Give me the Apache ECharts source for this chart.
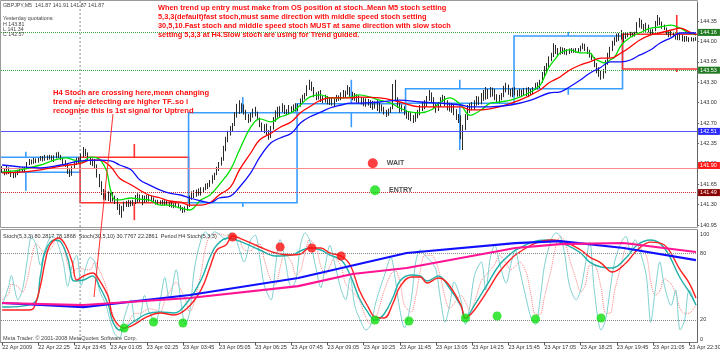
<!DOCTYPE html>
<html><head><meta charset="utf-8">
<script src="https://cdn.jsdelivr.net/npm/echarts@6/dist/echarts.min.js"></script>
<style>html,body{margin:0;padding:0;background:#fff;overflow:hidden}#c{width:720px;height:353px}</style>
</head><body><div id="c"></div>
<script>
// ---------------- DATA ----------------
const timeLabels = ['22 Apr 2009','22 Apr 22:25','22 Apr 23:45','23 Apr 01:05','23 Apr 02:25','23 Apr 03:45','23 Apr 05:05','23 Apr 06:25','23 Apr 07:45','23 Apr 09:05','23 Apr 10:25','23 Apr 11:45','23 Apr 13:05','23 Apr 14:25','23 Apr 15:45','23 Apr 17:05','23 Apr 18:25','23 Apr 19:45','23 Apr 21:05','23 Apr 22:30'];
const priceTicks = ['140.95','141.30','141.65','142.00','142.35','142.70','143.00','143.30','143.65','144.00','144.35'];
const stochTicks = [0,20,80,100];
const stochLevels = [20,80];
const daySeparator = 34.5;

// M5 candles: [open, close, low, high]
const m5Bars = [
[141.90,141.86,141.82,141.93],[141.86,141.80,141.78,141.89],[141.80,141.88,141.79,141.95],[141.88,141.83,141.80,141.91],
[141.83,141.78,141.75,141.86],[141.78,141.75,141.73,141.82],[141.75,141.81,141.74,141.84],[141.81,141.84,141.78,141.87],
[141.84,141.88,141.82,141.91],[141.88,141.85,141.83,141.92],[141.85,141.90,141.83,141.92],
[141.90,141.97,141.88,142.00],[141.97,142.02,141.95,142.05],[142.02,141.99,141.96,142.04],[141.99,142.04,141.97,142.07],[142.04,142.01,141.98,142.06],[142.01,142.05,141.99,142.07],
[142.05,142.08,142.02,142.10],[142.08,142.04,142.01,142.10],[142.04,142.09,142.02,142.12],[142.09,142.06,142.03,142.11],[142.06,142.10,142.04,142.12],[142.10,142.05,142.02,142.11],[142.05,142.09,142.00,142.11],
[142.09,142.13,142.06,142.16],[142.13,142.10,142.07,142.17],[142.10,142.06,142.03,142.12],
[142.06,142.00,141.96,142.07],[142.00,141.96,141.92,142.03],
[141.96,141.85,141.80,141.98],[141.85,141.79,141.75,141.88],[141.79,141.90,141.77,141.93],
[141.90,141.98,141.88,142.01],[141.98,142.04,141.95,142.07],[142.04,142.01,141.97,142.08],
[142.01,142.10,142.00,142.14],[142.10,142.20,142.08,142.25],[142.20,142.14,142.10,142.22],[142.14,142.06,142.03,142.16],
[142.06,141.99,141.95,142.08],[141.99,142.03,141.93,142.06],[142.03,141.94,141.90,142.05],
[141.94,141.78,141.74,141.96],[141.78,141.64,141.58,141.80],
[141.64,141.50,141.45,141.68],[141.50,141.42,141.37,141.55],
[141.42,141.48,141.36,141.53],[141.48,141.40,141.35,141.51],[141.40,141.45,141.33,141.49],[141.45,141.38,141.34,141.50],[141.38,141.35,141.30,141.44],
[141.35,141.26,141.20,141.40],[141.26,141.18,141.12,141.30],[141.18,141.22,141.07,141.27],[141.22,141.30,141.18,141.34],
[141.30,141.27,141.25,141.35],[141.27,141.33,141.25,141.37],[141.33,141.29,141.26,141.36],[141.29,141.34,141.27,141.37],
[141.34,141.41,141.30,141.45],[141.41,141.37,141.32,141.48],[141.37,141.43,141.33,141.46],[141.43,141.36,141.28,141.45],
[141.36,141.40,141.32,141.44],[141.40,141.37,141.33,141.45],[141.37,141.42,141.34,141.45],[141.42,141.38,141.34,141.44],[141.38,141.34,141.32,141.41],
[141.34,141.32,141.29,141.37],[141.32,141.35,141.28,141.37],[141.35,141.31,141.29,141.36],[141.31,141.34,141.28,141.37],[141.34,141.30,141.28,141.36],[141.30,141.32,141.28,141.35],
[141.32,141.28,141.25,141.33],[141.28,141.30,141.24,141.33],[141.30,141.26,141.23,141.31],[141.26,141.29,141.24,141.32],[141.29,141.25,141.23,141.31],
[141.25,141.22,141.19,141.28],[141.22,141.18,141.15,141.25],[141.18,141.23,141.16,141.26],[141.23,141.27,141.19,141.29],
[141.27,141.40,141.25,141.44],[141.40,141.47,141.37,141.51],[141.47,141.43,141.40,141.53],
[141.43,141.50,141.42,141.54],[141.50,141.47,141.44,141.56],[141.47,141.53,141.44,141.58],[141.53,141.56,141.49,141.58],
[141.56,141.61,141.53,141.64],[141.61,141.58,141.55,141.65],
[141.58,141.67,141.58,141.70],[141.67,141.74,141.64,141.78],[141.74,141.79,141.70,141.82],
[141.79,141.88,141.78,141.92],[141.88,141.97,141.85,142.00],[141.97,142.04,141.94,142.08],
[142.04,142.22,142.02,142.27],[142.22,142.35,142.18,142.42],
[142.35,142.48,142.33,142.52],[142.48,142.56,142.44,142.60],[142.56,142.62,142.50,142.65],
[142.62,142.78,142.60,142.83],[142.78,142.92,142.74,142.97],[142.92,142.85,142.80,143.03],[142.85,142.93,142.82,142.98],[142.93,142.84,142.79,142.96],
[142.84,142.76,142.70,142.87],[142.76,142.70,142.65,142.80],[142.70,142.78,142.67,142.82],
[142.78,142.85,142.74,142.89],[142.85,142.80,142.76,142.92],[142.80,142.72,142.70,142.84],
[142.72,142.62,142.58,142.74],[142.62,142.55,142.50,142.66],[142.55,142.60,142.48,142.63],
[142.60,142.50,142.45,142.64],[142.50,142.42,142.37,142.53],[142.42,142.55,142.40,142.60],
[142.55,142.70,142.54,142.75],[142.70,142.82,142.67,142.86],[142.82,142.78,142.74,142.92],
[142.78,142.88,142.75,142.93],[142.88,142.92,142.83,142.98],[142.92,142.85,142.80,142.95],
[142.85,142.82,142.78,142.88],[142.82,142.90,142.80,142.95],[142.90,142.86,142.82,142.93],
[142.86,142.92,142.83,142.96],[142.92,142.88,142.84,142.98],[142.88,142.94,142.85,142.97],
[142.94,143.02,142.92,143.06],[143.02,143.08,142.98,143.12],[143.08,143.12,143.04,143.15],
[143.12,143.24,143.10,143.28],[143.24,143.31,143.20,143.37],[143.31,143.22,143.18,143.34],
[143.22,143.12,143.08,143.25],[143.12,143.08,143.03,143.16],
[143.08,143.14,143.04,143.18],[143.14,143.06,143.00,143.20],[143.06,143.03,142.98,143.10],
[143.03,143.08,142.99,143.12],[143.08,143.01,142.96,143.10],[143.01,143.05,142.95,143.08],
[143.05,142.98,142.94,143.08],[142.98,143.04,142.92,143.07],[143.04,143.09,143.00,143.12],[143.09,143.06,143.02,143.11],
[143.06,143.13,143.03,143.16],[143.13,143.10,143.06,143.20],[143.10,143.16,143.07,143.19],
[143.16,143.22,143.12,143.28],[143.22,143.14,143.09,143.25],[143.14,143.07,143.03,143.17],
[143.07,143.11,143.02,143.15],[143.11,143.04,142.99,143.13],[143.04,143.08,142.98,143.11],
[143.08,143.01,142.96,143.08],[143.01,143.04,142.93,143.07],[143.04,142.98,142.92,143.06],[142.98,143.02,142.94,143.05],
[143.02,142.95,142.90,143.03],[142.95,142.99,142.87,143.02],[142.99,142.93,142.89,143.01],
[142.93,142.97,142.85,143.03],[142.97,142.88,142.82,142.99],[142.88,142.92,142.84,142.96],
[142.92,142.84,142.79,142.92],[142.84,142.80,142.75,142.87],[142.80,142.86,142.77,142.89],[142.86,142.90,142.82,142.92],
[142.90,143.18,142.88,143.30],[143.18,143.06,143.02,143.37],
[143.06,142.95,142.90,143.08],[142.95,142.88,142.82,142.99],[142.88,142.92,142.84,142.96],
[142.92,142.83,142.78,142.93],[142.83,142.76,142.72,142.86],[142.76,142.80,142.70,142.84],
[142.80,142.74,142.68,142.83],[142.74,142.70,142.65,142.78],[142.70,142.78,142.67,142.82],[142.78,142.83,142.73,142.87],
[142.83,142.90,142.78,142.95],[142.90,142.96,142.85,143.00],[142.96,142.93,142.88,143.03],
[142.93,143.06,142.92,143.10],[143.06,143.14,143.02,143.20],[143.14,143.05,143.00,143.16],
[143.05,142.94,142.90,143.08],[142.94,142.88,142.82,142.97],[142.88,142.96,142.85,143.00],
[142.96,143.04,142.92,143.08],[143.04,143.08,143.00,143.12],[143.08,142.98,142.93,143.10],
[142.98,142.92,142.86,143.03],[142.92,142.96,142.84,142.99],[142.96,142.89,142.82,142.98],
[142.89,142.84,142.78,142.95],[142.84,142.76,142.70,142.88],[142.76,142.72,142.65,142.80],
[142.72,142.45,142.38,142.78],[142.45,142.58,142.20,142.62],
[142.58,142.75,142.53,142.80],[142.75,142.88,142.70,142.95],
[142.88,142.94,142.82,142.98],[142.94,142.91,142.86,143.00],[142.91,142.98,142.87,143.03],
[142.98,143.05,142.94,143.10],[143.05,143.00,142.95,143.09],[143.00,143.08,142.96,143.15],
[143.08,143.15,143.02,143.20],[143.15,143.10,143.04,143.25],[143.10,143.18,143.05,143.22],
[143.18,143.13,143.08,143.25],[143.13,143.20,143.09,143.24],[143.20,143.10,143.03,143.22],
[143.10,143.04,142.99,143.13],[143.04,143.08,142.98,143.12],[143.08,143.12,143.03,143.15],
[143.12,143.22,143.08,143.27],[143.22,143.27,143.16,143.32],[143.27,143.18,143.12,143.29],
[143.18,143.14,143.09,143.22],[143.14,143.19,143.08,143.24],[143.19,143.16,143.11,143.25],[143.16,143.13,143.09,143.20],
[143.13,143.18,143.09,143.22],[143.18,143.14,143.08,143.21],[143.14,143.19,143.11,143.23],
[143.19,143.15,143.10,143.24],[143.15,143.20,143.08,143.25],[143.20,143.16,143.12,143.22],[143.16,143.22,143.13,143.25],
[143.22,143.28,143.20,143.32],[143.28,143.25,143.21,143.33],[143.25,143.33,143.23,143.37],
[143.33,143.45,143.32,143.50],[143.45,143.55,143.42,143.60],[143.55,143.60,143.50,143.65],
[143.60,143.72,143.58,143.76],[143.72,143.78,143.68,143.82],
[143.78,143.92,143.75,143.98],[143.92,143.86,143.80,143.95],
[143.86,143.82,143.78,143.90],[143.82,143.88,143.79,143.92],[143.88,143.84,143.80,143.91],
[143.84,143.86,143.79,143.90],[143.86,143.82,143.78,143.88],[143.82,143.85,143.80,143.89],
[143.85,143.87,143.82,143.90],[143.87,143.84,143.82,143.89],[143.84,143.88,143.82,143.90],[143.88,143.86,143.83,143.90],
[143.86,143.91,143.84,143.94],[143.91,143.95,143.88,143.98],[143.95,143.89,143.85,143.97],
[143.89,143.84,143.80,143.92],[143.84,143.78,143.74,143.87],[143.78,143.74,143.70,143.81],
[143.74,143.62,143.58,143.75],[143.62,143.55,143.48,143.65],
[143.55,143.48,143.42,143.58],[143.48,143.42,143.37,143.52],[143.42,143.50,143.39,143.55],
[143.50,143.65,143.48,143.70],[143.65,143.76,143.62,143.82],
[143.76,143.88,143.74,143.92],[143.88,143.98,143.85,144.02],[143.98,144.04,143.94,144.08],
[144.04,144.10,144.00,144.14],[144.10,144.07,144.02,144.15],[144.07,144.14,144.04,144.20],[144.14,144.09,143.98,144.16],[144.09,144.12,144.05,144.15],
[144.12,144.10,144.08,144.15],[144.10,144.14,144.09,144.17],[144.14,144.11,144.08,144.16],[144.11,144.16,144.09,144.17],
[144.16,144.28,144.15,144.33],[144.28,144.34,144.24,144.40],[144.34,144.26,144.22,144.37],
[144.26,144.22,144.18,144.30],[144.22,144.27,144.17,144.32],[144.27,144.20,144.16,144.29],
[144.20,144.16,144.12,144.21],[144.16,144.19,144.13,144.22],
[144.19,144.30,144.18,144.35],[144.30,144.38,144.27,144.45],[144.38,144.32,144.28,144.41],
[144.32,144.26,144.22,144.34],[144.26,144.23,144.20,144.29],
[144.23,144.16,144.12,144.24],[144.16,144.12,144.08,144.18],[144.12,144.15,144.09,144.19],[144.15,144.11,144.08,144.17],
[144.11,144.08,144.04,144.14],[144.08,144.11,144.03,144.15],[144.11,144.06,144.03,144.13],
[144.06,144.09,144.01,144.12],[144.09,144.04,144.00,144.10],[144.04,144.07,144.01,144.10],
[144.07,144.03,144.00,144.08],[144.03,144.06,144.01,144.08],[144.06,144.04,144.01,144.07],[144.04,144.05,144.02,144.08]
];

// H4 candles drawn over M5: [startBar, endBar, open, close, low, high]
const h4Bars = [
[-13.5,34.5,141.83,142.08,141.52,142.17],
[34.5,82.5,142.08,141.32,141.03,142.30],
[82.5,130.5,141.32,142.82,141.25,143.08],
[130.5,178.5,142.82,142.97,142.58,143.37],
[178.5,226.5,142.98,143.22,142.20,143.37],
[226.5,274.5,143.22,144.10,143.12,144.17],
[274.5,322.5,144.13,143.55,143.50,144.45]
];

// moving averages [bar, price]
const maFast = [[0,141.83],[8,141.87],[17,141.95],[23,142.03],[28,142.07],[32,142.03],[35,142.00],[39,142.08],[42,142.07],[46,141.87],[48,141.53],[50,141.37],[52,141.37],[57,141.40],[61,141.38],[65,141.37],[70,141.28],[74,141.28],[79,141.23],[83,141.20],[88,141.37],[92,141.45],[96,141.62],[101,141.87],[105,142.20],[110,142.58],[114,142.72],[119,142.67],[123,142.75],[128,142.82],[132,142.95],[136,143.08],[141,143.12],[145,143.07],[150,143.07],[154,143.08],[158,143.12],[163,143.08],[167,143.03],[172,142.98],[176,142.90],[181,142.83],[185,142.82],[190,142.87],[194,143.00],[198,143.07],[203,142.95],[207,142.78],[212,142.87],[216,142.98],[220,143.00],[225,143.03],[229,143.08],[234,143.17],[238,143.28],[240,143.42],[242,143.58],[245,143.73],[247,143.82],[251,143.87],[256,143.82],[260,143.82],[262,143.73],[265,143.67],[267,143.65],[269,143.70],[271,143.75],[274,143.95],[278,144.08],[282,144.15],[287,144.23],[291,144.25],[296,144.28],[300,144.23],[304,144.15],[307,144.12]];
const maMid = [[0,141.82],[8,141.83],[17,141.87],[26,141.93],[35,141.98],[39,142.03],[43,142.03],[48,141.92],[52,141.73],[57,141.62],[61,141.53],[65,141.45],[70,141.40],[74,141.35],[79,141.33],[83,141.28],[88,141.28],[92,141.32],[96,141.45],[101,141.58],[105,141.87],[110,142.15],[114,142.37],[119,142.48],[123,142.58],[128,142.67],[132,142.82],[136,142.92],[141,143.03],[145,143.07],[150,143.07],[154,143.07],[158,143.08],[167,143.07],[176,143.00],[185,142.92],[194,142.92],[203,142.92],[207,142.87],[212,142.87],[220,142.92],[229,143.03],[238,143.20],[242,143.32],[247,143.42],[251,143.53],[256,143.62],[260,143.67],[265,143.73],[269,143.73],[274,143.82],[278,143.92],[282,144.03],[287,144.12],[291,144.15],[296,144.20],[300,144.23],[304,144.17],[307,144.12]];
const maSlow = [[0,141.95],[8,141.92],[17,141.90],[26,141.95],[35,142.02],[43,142.03],[48,142.02],[52,141.95],[57,141.87],[61,141.70],[65,141.62],[70,141.53],[74,141.48],[79,141.45],[83,141.40],[88,141.35],[92,141.32],[96,141.40],[101,141.43],[105,141.58],[110,141.82],[114,142.08],[119,142.32],[123,142.40],[128,142.48],[132,142.65],[136,142.75],[141,142.83],[145,142.90],[150,142.95],[154,142.98],[158,142.98],[167,143.00],[176,143.03],[185,143.00],[194,142.98],[203,142.95],[207,142.92],[216,142.92],[225,142.95],[234,143.03],[242,143.15],[247,143.17],[251,143.25],[256,143.37],[260,143.48],[265,143.58],[269,143.67],[274,143.67],[278,143.70],[282,143.78],[287,143.87],[291,143.98],[296,144.07],[300,144.15],[304,144.15],[307,144.15]];

// horizontal levels
const greenLevels = [144.16, 143.53];
const blueLevel = 142.51;
const redLevel = 141.90;
const bidLevel = 141.87;
const darkRedLevel = 141.49;

// signal markers on price chart [bar, price]
const priceSignals = [[164,141.98],[165,141.53]];
const signalNames = ['WAIT','ENTRY'];

// stochastics [bar, value]
const fastMain = [[0,33],[3,51],[4,60],[7,38],[9,47],[11,72],[13,95],[15,87],[17,69],[19,83],[22,95],[24,92],[27,72],[29,50],[31,69],[33,78],[35,51],[37,67],[39,76],[41,72],[43,47],[46,33],[48,18],[50,7],[52,4],[54,22],[57,38],[59,18],[61,22],[63,42],[65,27],[68,18],[70,38],[72,58],[74,38],[77,65],[79,38],[81,16],[83,27],[85,65],[88,92],[90,99],[92,95],[94,99],[96,97],[99,92],[101,98],[103,95],[105,83],[107,72],[110,92],[112,96],[114,76],[116,51],[119,38],[121,69],[123,92],[125,76],[128,49],[130,56],[132,87],[134,98],[136,92],[139,65],[141,49],[143,69],[145,87],[147,72],[150,47],[152,38],[154,58],[156,33],[158,22],[161,11],[163,15],[165,33],[167,47],[169,59],[172,76],[174,56],[176,29],[178,13],[181,38],[183,72],[185,83],[187,78],[190,72],[192,65],[194,38],[196,18],[198,33],[200,54],[203,38],[205,16],[207,33],[209,60],[212,72],[214,47],[216,76],[218,87],[220,72],[223,53],[225,69],[227,83],[229,65],[232,38],[234,22],[236,16],[238,38],[240,69],[243,92],[245,98],[247,95],[249,78],[251,51],[254,38],[256,47],[258,69],[260,90],[262,47],[265,11],[267,20],[269,47],[271,72],[274,90],[276,95],[278,81],[280,92],[282,83],[285,60],[287,18],[289,47],[291,72],[293,51],[296,33],[298,47],[300,11],[302,20],[304,47],[307,33]];
const fastSignal = [[0,38],[3,44],[4,52],[7,50],[9,45],[11,55],[13,75],[15,88],[17,84],[19,80],[22,85],[24,92],[27,86],[29,70],[31,62],[33,66],[35,66],[37,65],[39,65],[41,72],[43,65],[46,50],[48,32],[50,19],[52,10],[54,11],[57,22],[59,26],[61,26],[63,28],[65,30],[68,29],[70,27],[72,38],[74,45],[77,54],[79,47],[81,39],[83,27],[85,36],[88,62],[90,85],[92,96],[94,97],[96,97],[99,96],[101,96],[103,95],[105,92],[107,83],[110,82],[112,87],[114,88],[116,74],[119,55],[121,52],[123,67],[125,79],[128,72],[130,60],[132,64],[134,80],[136,92],[139,85],[141,68],[143,61],[145,68],[147,76],[150,68],[152,52],[154,48],[156,43],[158,38],[161,22],[163,16],[165,20],[167,32],[169,46],[172,61],[174,64],[176,54],[178,33],[181,27],[183,41],[185,64],[187,78],[190,78],[192,72],[194,58],[196,40],[198,30],[200,35],[203,42],[205,36],[207,28],[209,36],[212,55],[214,60],[216,65],[218,70],[220,78],[223,71],[225,65],[227,68],[229,72],[232,62],[234,42],[236,25],[238,25],[240,41],[243,66],[245,86],[247,95],[249,90],[251,75],[254,56],[256,45],[258,51],[260,69],[262,69],[265,49],[267,26],[269,26],[271,46],[274,70],[276,86],[278,89],[280,89],[282,85],[285,78],[287,54],[289,42],[291,46],[293,57],[296,52],[298,44],[300,30],[302,26],[304,26],[307,34]];
const midMain = [[0,31.6],[14,35.2],[17,60.3],[19,80.9],[23,91.6],[26,89.8],[29,75.5],[32,54.9],[36,55.8],[40,59.4],[43,50.4],[47,33.4],[49,18.2],[52,11.0],[58,18.2],[64,25.4],[70,27.2],[76,26.3],[82,36.1],[88,55.8],[92,76.4],[95,87.2],[100,93.4],[105,90.7],[114,82.7],[121,77.3],[128,78.2],[132,81.8],[136,84.5],[141,82.7],[145,78.2],[150,73.7],[154,60.3],[158,39.7],[162,26.3],[165,20.0],[169,25.4],[173,40.6],[176,54.9],[181,60.3],[185,59.4],[188,54.9],[193,59.4],[197,51.3],[203,32.5],[205,21.8],[209,33.4],[215,53.1],[220,69.3],[226,80.9],[229,84.5],[236,90.7],[243,91.6],[249,88.0],[256,80.0],[260,71.9],[265,67.5],[270,66.6],[276,75.5],[281,87.2],[287,91.6],[293,84.5],[300,57.6],[304,45.1],[307,33.4]];
const midSignal = [[0,29.0],[12,29.0],[14,30.7],[17,51.3],[19,71.9],[21,86.3],[25,93.4],[28,87.2],[31,71.9],[33,55.8],[36,59.4],[40,62.1],[43,55.8],[47,40.6],[49,22.7],[54,12.8],[58,15.5],[64,22.7],[70,26.3],[76,24.5],[82,30.7],[88,46.9],[92,67.5],[95,82.7],[99,87.2],[102,95.2],[105,93.4],[114,85.4],[121,80.0],[128,78.2],[132,79.1],[136,84.5],[141,84.5],[145,80.0],[150,77.3],[154,69.3],[158,46.9],[162,31.6],[165,22.7],[169,21.8],[173,35.2],[176,49.6],[181,58.5],[185,58.5],[188,53.1],[193,57.6],[197,53.1],[203,33.4],[205,21.8],[209,29.0],[215,46.9],[220,63.0],[226,76.4],[229,80.9],[236,88.9],[243,91.6],[249,89.8],[256,82.7],[260,76.4],[265,71.0],[270,63.0],[276,71.0],[281,82.7],[287,89.8],[293,87.2],[300,64.8],[304,53.1],[307,39.7]];
const h4Main = [[0,35.2],[36,31.6],[83,42.4],[131,57.6],[179,80.0],[227,88.9],[247,90.7],[275,84.5],[307,73.7]];
const h4Signal = [[0,35.2],[36,33.4],[83,39.7],[131,50.4],[155,61.2],[179,66.6],[227,84.5],[247,88.0],[275,89.0],[307,80.9]];
const entryDots = [[54,12.8],[67,18.2],[80,17.3],[165,20.0],[180,19.1],[205,21.8],[219,23.6],[236,20.9],[265,21.8]];
const waitDots = [[102,94.3],[123,85.4],[137,84.5],[150,77.3]];

// texts
const headerLines = ['GBPJPY,M5  141.87 141.91 141.87 141.87','Yesterday quotations:','H 143.81','L 141.34','C 142.57'];
const noteTop = ['When trend up entry must make from OS position at stoch..Mean M5 stoch setting','5,3,3(default)fast stoch,must same direction with middle speed stoch setting','30,5,10.Fast stoch and middle speed stoch MUST at same direction with slow stoch','setting 5,3,3 at H4.Slow stoch are using for Trend guided.'];
const noteH4 = ['H4 Stoch are crossing here,mean changing','trend are detecting are higher TF..so i','recognise this is 1st signal for Uptrend'];
const stochInfo = 'Stoch(5,3,3) 80.2817 78.1868  Stoch(30,5,10) 30.7767 22.2861  Period H4 Stoch(5,3,3)';
const copyright = 'Meta Trader. \u00A9 2001-2008 MetaQuotes Software Corp.';

// ---------------- CHART ----------------
const FONT = 'Liberation Sans';
const N = m5Bars.length;
const cats = m5Bars.map((_, i) => String(i));
const chart = echarts.init(document.getElementById('c'), null, {renderer: 'canvas'});

function levelLine(v, lineColor, type, boxBg, boxColor, dy, lineOpacity) {
  return {
    yAxis: v,
    lineStyle: {color: lineColor, type: type, width: 1, opacity: lineOpacity == null ? 1 : lineOpacity},
    label: {show: true, position: 'end', distance: 1, formatter: () => v.toFixed(2),
      backgroundColor: boxBg, color: boxColor, fontSize: 5.5, fontFamily: FONT,
      padding: [1, 3, 0, 2], offset: [0, dy || 0]}
  };
}

const txt = (text, x, y, opts) => Object.assign({
  type: 'text', silent: true, z: 50,
  style: Object.assign({text: text, x: x, y: y, fill: '#333', fontSize: 5.5, fontFamily: FONT, textVerticalAlign: 'middle'}, opts || {})
});

const graphics = [];
graphics.push({type: 'rect', silent: true, z: 0, shape: {x: 0.5, y: 0.5, width: 697, height: 227}, style: {fill: null, stroke: '#9a9a9a', lineWidth: 1}});
graphics.push({type: 'rect', silent: true, z: 0, shape: {x: 0.5, y: 229.5, width: 697, height: 113}, style: {fill: null, stroke: '#9a9a9a', lineWidth: 1}});
const hy = [6, 19, 24.3, 29.3, 34.3];
headerLines.forEach((t, i) => graphics.push(txt(t, 3, hy[i], {fill: '#444', fontSize: 5.3})));
noteTop.forEach((t, i) => graphics.push(txt(t, 158, 7.5 + i * 9, {fill: '#ff1010', fontSize: 7.4, fontWeight: 'bold'})));
noteH4.forEach((t, i) => graphics.push(txt(t, 53, 93 + i * 9, {fill: '#ff1010', fontSize: 7.6, fontWeight: 'bold'})));
graphics.push({type: 'line', silent: true, z: 40, shape: {x1: 113, y1: 114, x2: 94, y2: 297}, style: {stroke: '#ff3030', lineWidth: 1}});
graphics.push(txt(stochInfo, 3, 236.5, {fill: '#333'}));
graphics.push(txt(copyright, 3, 338, {fill: '#444'}));

const option = {
  animation: false,
  backgroundColor: '#ffffff',
  textStyle: {fontFamily: FONT},
  grid: [
    {left: 1, top: 3, width: 696.1, height: 222, outerBoundsMode: 'none', containLabel: false},
    {left: 1, top: 230.7, width: 696.1, height: 111.6, outerBoundsMode: 'none', containLabel: false}
  ],
  xAxis: [
    {type: 'category', gridIndex: 0, data: cats, show: false, boundaryGap: true},
    {type: 'value', gridIndex: 0, min: -0.5, max: N - 0.5, show: false},
    {type: 'category', gridIndex: 1, data: cats, boundaryGap: true,
      axisLine: {show: true, lineStyle: {color: '#777'}},
      axisTick: {show: true, length: 3, alignWithLabel: true, interval: (i) => i % 16 === 0, lineStyle: {color: '#555'}},
      axisLabel: {show: true, interval: (i) => i % 16 === 0, formatter: (v, i) => timeLabels[i / 16] || '',
        align: 'left', fontSize: 5.5, color: '#333', margin: 2.5, fontFamily: FONT, hideOverlap: false},
      splitLine: {show: false}}
  ],
  yAxis: [
    {type: 'value', gridIndex: 0, min: 140.95, max: 144.65, show: false, scale: true},
    {type: 'value', gridIndex: 0, position: 'right', min: 0, max: 3.70 / 0.34, interval: 1,
      axisLine: {show: true, lineStyle: {color: '#666'}},
      axisTick: {show: true, length: 2, lineStyle: {color: '#666'}},
      axisLabel: {show: true, fontSize: 5.5, color: '#333', margin: 3, fontFamily: FONT, showMaxLabel: false, hideOverlap: false,
        formatter: (v) => Number.isInteger(v) ? (priceTicks[v] || '') : ''},
      splitLine: {show: false}},
    {type: 'value', gridIndex: 1, position: 'right', min: 0, max: 100, interval: 20,
      axisLine: {show: true, lineStyle: {color: '#666'}},
      axisTick: {show: false},
      axisLabel: {show: true, fontSize: 5.5, color: '#333', margin: 3, fontFamily: FONT, hideOverlap: false,
        formatter: (v) => stochTicks.indexOf(v) < 0 ? '' : (v === 100 ? '{t|100}' : (v === 0 ? '{b|0}' : String(v))),
        rich: {t: {fontSize: 5.5, padding: [8, 0, 0, 0]}, b: {fontSize: 5.5, padding: [0, 0, 5, 0]}}},
      splitLine: {show: false}}
  ],
  series: [
    {type: 'custom', name: 'H4', xAxisIndex: 1, yAxisIndex: 0, clip: true, z: 1, silent: true,
      data: h4Bars,
      encode: {x: [0, 1], y: [2, 3, 4, 5]},
      renderItem: function (params, api) {
        const s = api.value(0), e = api.value(1), o = api.value(2), c = api.value(3), l = api.value(4), h = api.value(5);
        const mid = (s + e) / 2, top = Math.max(o, c), bot = Math.min(o, c);
        const pTL = api.coord([s, top]), pBR = api.coord([e, bot]);
        const pH = api.coord([mid, h]), pL = api.coord([mid, l]);
        const color = c >= o ? '#3a9cff' : '#ff3030';
        const cs = params.coordSys;
        return {type: 'group', clipPath: {type: 'rect', shape: {x: cs.x, y: cs.y, width: cs.width, height: cs.height}}, children: [
          {type: 'rect', shape: {x: pTL[0], y: pTL[1], width: pBR[0] - pTL[0], height: pBR[1] - pTL[1]}, style: {fill: null, stroke: color, lineWidth: 1.6}},
          {type: 'line', shape: {x1: pH[0], y1: pH[1], x2: pH[0], y2: pTL[1]}, style: {stroke: color, lineWidth: 1.6}},
          {type: 'line', shape: {x1: pL[0], y1: pBR[1], x2: pL[0], y2: pL[1]}, style: {stroke: color, lineWidth: 1.6}}
        ]};
      }},
    {type: 'candlestick', name: 'M5', xAxisIndex: 0, yAxisIndex: 0, z: 2, silent: true,
      data: m5Bars.map(b => [b[0], b[1], b[2], b[3]]),
      barWidth: 1,
      itemStyle: {color: '#ffffff', color0: '#2a2a2a', borderColor: '#2a2a2a', borderColor0: '#2a2a2a', borderWidth: 1}},
    {type: 'line', name: 'MA fast', xAxisIndex: 0, yAxisIndex: 0, data: maFast, symbol: 'none', smooth: 0.4, z: 4, silent: true,
      lineStyle: {color: '#00e000', width: 1.3}},
    {type: 'line', name: 'MA mid', xAxisIndex: 0, yAxisIndex: 0, data: maMid, symbol: 'none', smooth: 0.4, z: 4, silent: true,
      lineStyle: {color: '#ff0000', width: 1.3}},
    {type: 'line', name: 'MA slow', xAxisIndex: 0, yAxisIndex: 0, data: maSlow, symbol: 'none', smooth: 0.4, z: 4, silent: true,
      lineStyle: {color: '#1010ff', width: 1.3},
      markLine: {silent: true, symbol: ['none', 'none'], animation: false, z: 3,
        data: [
          levelLine(greenLevels[0], '#3aa83a', 'dotted', '#1f7a1f', '#ffffff'),
          levelLine(greenLevels[1], '#3aa83a', 'dotted', '#1f7a1f', '#ffffff'),
          levelLine(blueLevel, '#5555ff', 'solid', '#2a2aff', '#ffffff'),
          levelLine(redLevel, '#ff8a8a', 'solid', '#ff1a1a', '#ffffff', -2.5),
          levelLine(bidLevel, '#000000', 'solid', '#000000', '#ffffff', 2.5, 0),
          levelLine(darkRedLevel, '#c03030', 'dotted', '#8b0000', '#ffffff')
        ]}},
    {type: 'scatter', name: 'signals', xAxisIndex: 0, yAxisIndex: 0, z: 6, silent: true,
      data: priceSignals.map((p, i) => ({value: p, itemStyle: {color: i === 0 ? '#ff1010' : '#10e010'},
        label: {show: true, position: 'right', distance: 9, formatter: signalNames[i], color: '#222', fontSize: 7, fontWeight: 'bold', fontFamily: FONT}})),
      symbolSize: 10},
    // stochastic pane
    {type: 'line', name: 'fast signal', xAxisIndex: 2, yAxisIndex: 2, data: fastSignal, symbol: 'none', smooth: 0.3, z: 3, silent: true,
      lineStyle: {color: '#ff8080', width: 1, type: 'dotted'},
      markLine: {silent: true, symbol: ['none', 'none'], animation: false, label: {show: false},
        lineStyle: {color: '#888', type: 'dotted', width: 1},
        data: stochLevels.map(v => ({yAxis: v}))}},
    {type: 'line', name: 'fast main', xAxisIndex: 2, yAxisIndex: 2, data: fastMain, symbol: 'none', smooth: 0.3, z: 3, silent: true,
      lineStyle: {color: '#7fd0d0', width: 1}},
    {type: 'line', name: 'mid main', xAxisIndex: 2, yAxisIndex: 2, data: midMain, symbol: 'none', smooth: 0.4, z: 4, silent: true,
      lineStyle: {color: '#20b0a8', width: 1.4}},
    {type: 'line', name: 'mid signal', xAxisIndex: 2, yAxisIndex: 2, data: midSignal, symbol: 'none', smooth: 0.4, z: 4, silent: true,
      lineStyle: {color: '#ff2020', width: 1.4}},
    {type: 'line', name: 'H4 main', xAxisIndex: 2, yAxisIndex: 2, data: h4Main, symbol: 'none', smooth: false, z: 5, silent: true,
      lineStyle: {color: '#1010ff', width: 2.2}},
    {type: 'line', name: 'H4 signal', xAxisIndex: 2, yAxisIndex: 2, data: h4Signal, symbol: 'none', smooth: false, z: 5, silent: true,
      lineStyle: {color: '#ff1493', width: 2.2}},
    {type: 'scatter', name: 'entry', xAxisIndex: 2, yAxisIndex: 2, data: entryDots, symbolSize: 9, z: 7, silent: true,
      itemStyle: {color: '#10e010'}},
    {type: 'scatter', name: 'wait', xAxisIndex: 2, yAxisIndex: 2, data: waitDots, symbolSize: 9, z: 7, silent: true,
      itemStyle: {color: '#ff1010'}}
  ],
  graphic: graphics
};
chart.setOption(option);

// day separator (dotted vertical) in both panes via the axis scale
const sx = chart.convertToPixel({xAxisIndex: 1}, daySeparator);
const g2 = graphics.concat([
  {type: 'line', silent: true, z: 1, shape: {x1: sx, y1: 1, x2: sx, y2: 227}, style: {stroke: '#888', lineWidth: 1, lineDash: [2, 2]}},
  {type: 'line', silent: true, z: 1, shape: {x1: sx, y1: 230, x2: sx, y2: 342}, style: {stroke: '#888', lineWidth: 1, lineDash: [2, 2]}}
]);
chart.setOption({graphic: g2}, {replaceMerge: ['graphic']});
</script></body></html>
